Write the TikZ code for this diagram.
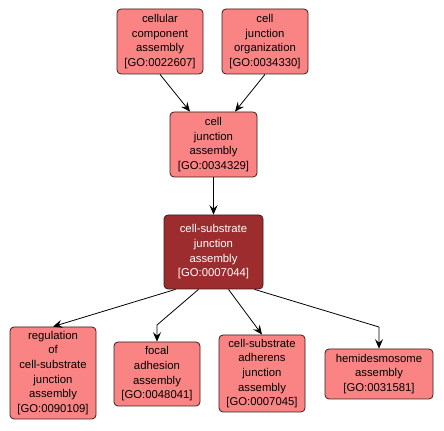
\documentclass[tikz,border=0pt]{standalone}
\usepackage{fontspec}
\setmainfont{Liberation Sans}
\usetikzlibrary{arrows.meta,calc}
\definecolor{GoFill}{HTML}{FA8484}
\definecolor{GoDark}{HTML}{9C2C2E}
\definecolor{GoLine}{HTML}{3A1C1C}

\begin{document}
\begin{tikzpicture}[x=0.75pt,y=-0.75pt]
    \tikzset{term/.style={draw=GoLine,fill=GoFill,rounded corners=3pt,align=center,inner sep=0pt,
        font=\fontsize{8.5}{11}\selectfont,line width=0.6pt},
      link/.style={draw=black,line width=0.6pt,-{Stealth[length=7pt,width=6pt,inset=2.5pt]}}}
    \useasboundingbox (0,0) rectangle (444,431);
    \node[term,minimum width=64.5pt,minimum height=48.75pt] (cca) at (160,41.5) {cellular\\component\\assembly\\{[}GO:0022607{]}};
    \node[term,minimum width=64.5pt,minimum height=48.75pt] (cjo) at (265,41.5) {cell\\junction\\organization\\{[}GO:0034330{]}};
    \node[term,minimum width=65.25pt,minimum height=48.75pt] (cja) at (213.5,144.5) {cell\\junction\\assembly\\{[}GO:0034329{]}};
    \node[term,fill=GoDark,text=white,minimum width=74.25pt,minimum height=55.5pt] (csja) at (213.5,252) {cell-substrate\\junction\\assembly\\{[}GO:0007044{]}};
    \node[term,minimum width=64.5pt,minimum height=69pt] (reg) at (53,373) {regulation\\of\\cell-substrate\\junction\\assembly\\{[}GO:0090109{]}};
    \node[term,minimum width=64.5pt,minimum height=48pt] (focal) at (157,374) {focal\\adhesion\\assembly\\{[}GO:0048041{]}};
    \node[term,minimum width=64.5pt,minimum height=57.75pt] (adh) at (262,373.5) {cell-substrate\\adherens\\junction\\assembly\\{[}GO:0007045{]}};
    \node[term,minimum width=81pt,minimum height=37.5pt] (hemi) at (379,374) {hemidesmosome\\assembly\\{[}GO:0031581{]}};
    % bends of the two elbow links
    \coordinate (fbend) at (157,325);
    \coordinate (hbend) at (379,327);
    \draw[link] (cca.south) -- (cja.north west -| 190,0);
    \draw[link] (cjo.south) -- (cja.north east -| 235,0);
    \draw[link] (cja.south) -- (csja.north);
    \draw[link] ($(csja.south)+(-38,0)$) -- (reg.north);
    \draw[link] ($(csja.south)+(-15,0)$) -- (fbend) -- (focal.north);
    \draw[link] ($(csja.south)+(15,0)$) -- (adh.north);
    \draw[link] ($(csja.south)+(41,0)$) -- (hbend) -- (hemi.north);
\end{tikzpicture}
\end{document}
